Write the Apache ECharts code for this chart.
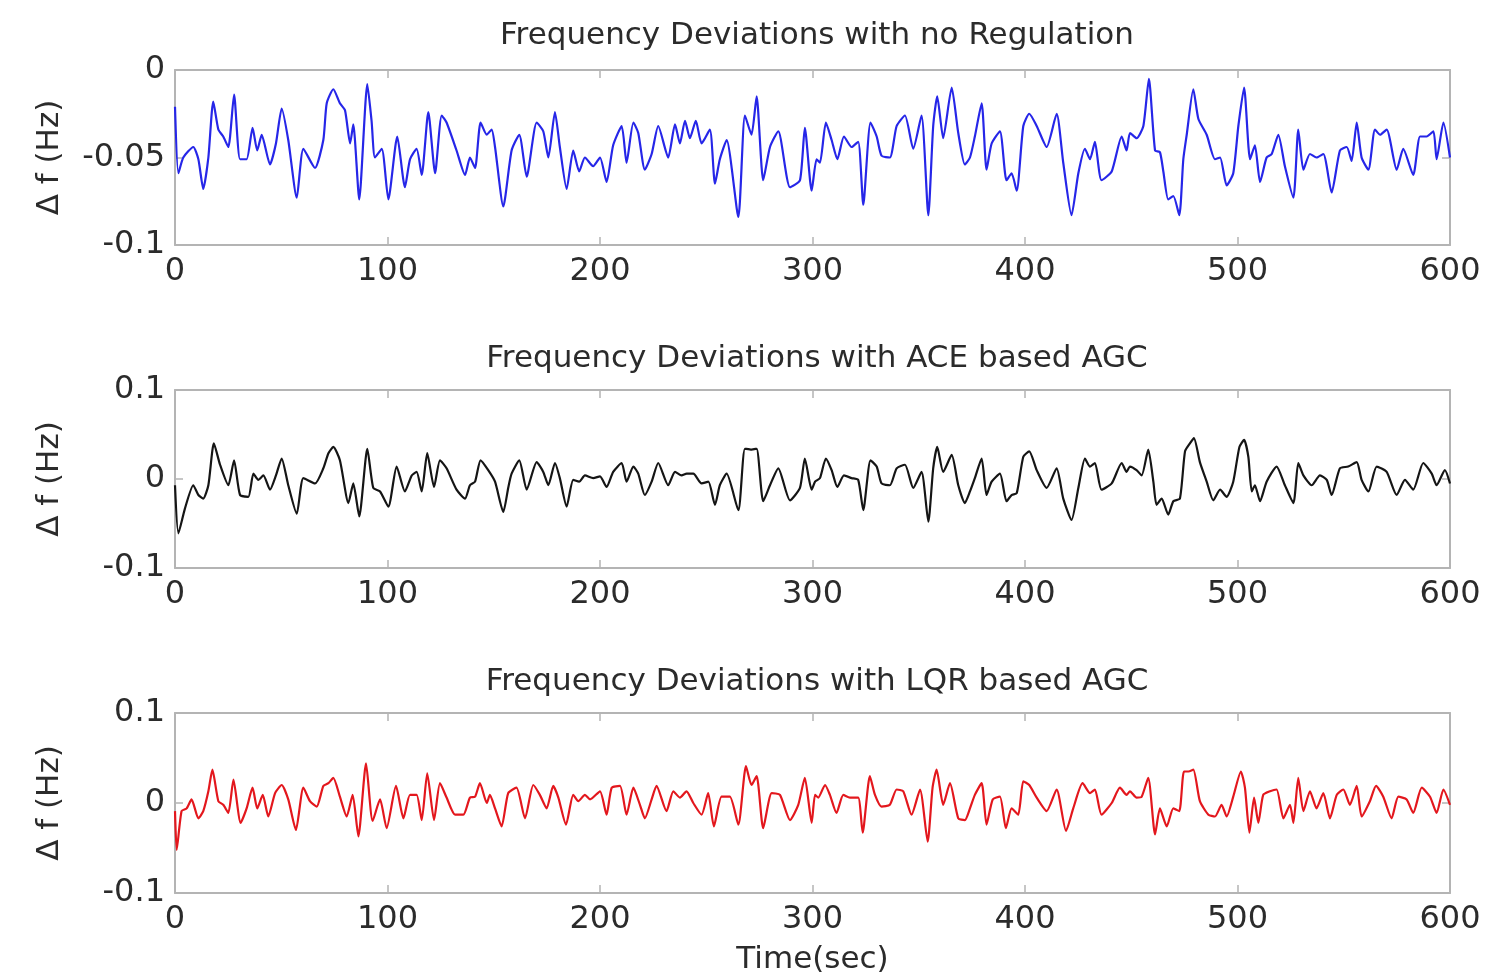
<!DOCTYPE html>
<html>
<head>
<meta charset="utf-8">
<script src="https://cdn.jsdelivr.net/npm/echarts@6/dist/echarts.min.js"></script>
<style>
    html, body { margin: 0; background: #fff; }
    #chart { width: 1489px; height: 978px; }
</style>
</head>
<body>
<div id="chart"></div>
<script>
// titles of the three panels
const panelTitles = [
    "Frequency Deviations with no Regulation",
    "Frequency Deviations with ACE based AGC",
    "Frequency Deviations with LQR based AGC"
];
// y range per panel: [min, max, interval]
const yRanges = [[-0.1, 0, 0.05], [-0.1, 0.1, 0.1], [-0.1, 0.1, 0.1]];
const xRange = [0, 600, 100];

// [time (sec), delta f (Hz)]
const noRegulation = [
    [0,-0.021],[1.6,-0.059],[3.9,-0.050],[8.6,-0.044],[11,-0.051],[13.3,-0.068],[15.7,-0.050],[18,-0.018],[20.4,-0.034],[22.7,-0.038],
    [25.1,-0.044],[27.8,-0.014],[30.6,-0.051],[33.7,-0.051],[36.5,-0.033],[38.7,-0.046],[40.8,-0.037],[44.7,-0.054],[47.5,-0.042],[50.2,-0.022],
    [53.3,-0.040],[57.3,-0.073],[60.4,-0.045],[65.9,-0.056],[69.8,-0.040],[71.4,-0.019],[74.5,-0.011],[77.6,-0.019],[80,-0.023],[82.4,-0.042],
    [83.9,-0.031],[86.7,-0.074],[90.5,-0.008],[92.5,-0.029],[94.1,-0.050],[97.3,-0.045],[100.4,-0.074],[104.6,-0.038],[108.2,-0.067],[110.6,-0.051],
    [113.7,-0.045],[116.1,-0.060],[119.2,-0.024],[122.4,-0.059],[125.5,-0.026],[127.8,-0.030],[132.5,-0.046],[136.5,-0.060],[138.8,-0.050],[141.2,-0.056],
    [143.8,-0.030],[146.7,-0.037],[149,-0.034],[150.6,-0.044],[154.5,-0.078],[158.4,-0.046],[162,-0.037],[165.5,-0.061],[170.2,-0.030],[173.3,-0.035],
    [175.7,-0.050],[178.8,-0.024],[181.1,-0.044],[184.3,-0.068],[187.4,-0.046],[190.2,-0.058],[192.9,-0.050],[196.8,-0.055],[200,-0.050],[203.1,-0.064],
    [206.2,-0.043],[210.2,-0.032],[212.5,-0.053],[215.7,-0.030],[218,-0.036],[221.1,-0.057],[224.3,-0.048],[227.4,-0.032],[232.1,-0.050],[235.3,-0.031],
    [237.6,-0.042],[240,-0.029],[242.3,-0.039],[245.1,-0.029],[247.8,-0.042],[251.7,-0.034],[254.1,-0.065],[256.4,-0.051],[259.6,-0.040],[265.1,-0.084],
    [268.2,-0.026],[271.3,-0.037],[273.7,-0.015],[276.8,-0.063],[280,-0.044],[283.9,-0.035],[289.4,-0.067],[294.1,-0.063],[296.4,-0.033],[299.6,-0.069],
    [301.9,-0.051],[303.5,-0.053],[306.3,-0.030],[309,-0.040],[311.7,-0.051],[314.8,-0.038],[318.4,-0.044],[321.5,-0.041],[323.9,-0.077],[327.3,-0.030],
    [330.2,-0.038],[332.5,-0.049],[336.4,-0.050],[339.6,-0.032],[343.5,-0.026],[347.4,-0.045],[351.3,-0.026],[354.5,-0.083],[356.8,-0.032],[358.7,-0.015],
    [361.5,-0.039],[365.5,-0.010],[368.6,-0.036],[371.7,-0.054],[374.1,-0.050],[376.4,-0.038],[379.6,-0.019],[381.9,-0.057],[384.3,-0.042],[388.2,-0.035],
    [391.3,-0.063],[393.7,-0.059],[396.1,-0.069],[399.2,-0.032],[402,-0.025],[405.5,-0.032],[410.2,-0.044],[414.9,-0.025],[418,-0.053],[421.9,-0.083],
    [425.1,-0.059],[428.2,-0.045],[430.6,-0.051],[432.9,-0.041],[436,-0.063],[440.8,-0.058],[445.5,-0.038],[447.8,-0.046],[449.4,-0.036],[452.5,-0.039],
    [455.7,-0.032],[458.3,-0.005],[461.2,-0.046],[463.5,-0.047],[465.1,-0.058],[467.4,-0.074],[469.8,-0.072],[472.6,-0.083],[474.5,-0.051],[476.1,-0.037],
    [479.2,-0.011],[481.6,-0.028],[485.5,-0.037],[489.4,-0.051],[491.8,-0.050],[494.9,-0.066],[498,-0.059],[500.4,-0.032],[503.1,-0.010],[505.9,-0.051],
    [508.2,-0.043],[510.6,-0.064],[513.7,-0.050],[516.1,-0.048],[519.2,-0.037],[522.3,-0.055],[526.3,-0.073],[528.6,-0.034],[531,-0.057],[534.1,-0.048],
    [537.2,-0.050],[540.4,-0.048],[544.3,-0.070],[548.2,-0.046],[551.4,-0.044],[553.7,-0.052],[556.1,-0.030],[558.4,-0.050],[561.6,-0.057],[564.7,-0.034],
    [567.1,-0.037],[570.2,-0.034],[574.9,-0.057],[578,-0.045],[582.7,-0.060],[585.9,-0.038],[589,-0.038],[592.2,-0.035],[593.7,-0.051],[596.9,-0.030],
    [600,-0.050]
];

const aceAgc = [
    [0,-0.007],[1.6,-0.061],[4.7,-0.033],[8.6,-0.007],[11,-0.018],[13.3,-0.022],[15.7,-0.007],[18.3,0.040],[21.2,0.016],[25.1,-0.007],
    [27.8,0.021],[30.6,-0.018],[34.5,-0.020],[36.9,0.006],[39.2,-0.001],[41.6,0.004],[44.7,-0.012],[47.5,0.004],[50.2,0.023],[53.3,-0.007],
    [57.3,-0.039],[60.4,0.001],[65.9,-0.005],[69.8,0.012],[72.2,0.029],[74.5,0.036],[77.6,0.021],[81.6,-0.027],[83.9,-0.005],[86.7,-0.042],
    [90.5,0.034],[93.3,-0.010],[96.5,-0.014],[100.4,-0.031],[104.3,0.014],[108.2,-0.014],[111.4,0.004],[113.7,0.008],[116.1,-0.014],[118.7,0.029],
    [121.9,-0.009],[124.7,0.021],[127.8,0.012],[132.5,-0.012],[136.5,-0.022],[138.8,-0.007],[141.2,-0.003],[143.8,0.021],[147.4,0.010],[150.6,-0.003],
    [154.5,-0.037],[156.8,-0.010],[158.4,0.006],[162,0.021],[165.5,-0.012],[170.2,0.019],[173.3,0.008],[175.7,-0.007],[178.8,0.018],[181.1,0.001],
    [184.3,-0.031],[187.4,-0.001],[190.2,-0.003],[192.9,0.004],[196.8,0.001],[200,0.003],[203.1,-0.009],[206.2,0.008],[210.2,0.018],[212.5,-0.003],
    [215.7,0.014],[218,0.006],[221.1,-0.018],[224.3,-0.003],[227.4,0.018],[232.1,-0.007],[235.3,0.008],[238.4,0.004],[240.8,0.006],[243.9,0.006],
    [247.8,-0.005],[251,-0.003],[254.1,-0.029],[256.4,-0.007],[259.6,0.006],[265.1,-0.035],[268.2,0.034],[271.3,0.033],[273.7,0.034],[276.8,-0.025],
    [280,-0.007],[283.9,0.012],[289.4,-0.024],[294.1,-0.010],[296.4,0.023],[299.6,-0.012],[301.2,-0.003],[303.5,0.001],[306.3,0.023],[309,0.010],
    [311.7,-0.009],[314.8,0.004],[318.4,0.001],[321.5,-0.001],[323.9,-0.035],[327.3,0.021],[330.2,0.014],[332.5,-0.005],[336.4,-0.007],[339.6,0.012],
    [343.5,0.016],[347.4,-0.010],[351.3,0.008],[354.5,-0.048],[356.8,0.012],[358.7,0.036],[361.5,0.008],[365.5,0.027],[368.6,-0.007],[371.7,-0.027],
    [374.1,-0.014],[376.4,0.001],[379.6,0.023],[381.9,-0.018],[384.3,-0.003],[388.2,0.006],[391.3,-0.025],[393.7,-0.018],[396.1,-0.016],[399.2,0.025],
    [402,0.031],[405.5,0.010],[410.2,-0.010],[414.9,0.012],[418,-0.022],[421.9,-0.046],[425.1,-0.010],[428.2,0.023],[430.6,0.014],[432.9,0.018],
    [436,-0.012],[440.8,-0.005],[445.5,0.018],[447.8,0.008],[449.4,0.014],[452.5,0.010],[454.9,0.004],[458,0.033],[460.4,-0.003],[461.9,-0.029],
    [464.3,-0.022],[467.4,-0.040],[469.8,-0.025],[472.9,-0.022],[475.3,0.031],[477.6,0.040],[479.5,0.046],[482.3,0.019],[485.5,-0.003],[488.6,-0.024],
    [491.8,-0.012],[494.9,-0.020],[498,-0.003],[500.9,0.036],[503.1,0.044],[505.1,0.025],[506.7,-0.014],[508.2,-0.007],[510.6,-0.025],[513.7,-0.003],
    [518.4,0.014],[522.3,-0.007],[526.3,-0.027],[528.6,0.018],[531,0.004],[534.9,-0.007],[538.8,0.004],[542,-0.001],[544.3,-0.018],[548.2,0.012],
    [552.1,0.014],[556.1,0.019],[558.4,-0.001],[561.6,-0.014],[565.5,0.014],[570.2,0.008],[574.9,-0.018],[578.8,-0.001],[582.7,-0.012],[587.4,0.018],
    [591.4,0.006],[593.7,-0.007],[597.6,0.010],[600,-0.005]
];

const lqrAgc = [
    [0,-0.009],[0.8,-0.052],[3.1,-0.009],[5.5,-0.006],[7.8,0.004],[11,-0.017],[13.3,-0.009],[15.7,0.013],[17.6,0.037],[20.4,0.002],
    [22.7,-0.002],[25.1,-0.011],[27.5,0.026],[30.9,-0.022],[33.7,-0.006],[36.5,0.017],[38.7,-0.006],[41.3,0.009],[43.9,-0.015],[47.1,0.011],
    [50.2,0.020],[53.3,0.004],[56.9,-0.030],[60.4,0.017],[63.5,0.002],[66.7,-0.004],[69.8,0.019],[72.2,0.022],[74.5,0.028],[77.6,0.007],
    [80.8,-0.015],[83.6,0.009],[86.3,-0.037],[89.9,0.044],[93,-0.020],[96.5,0.004],[99.6,-0.028],[104,0.019],[107.5,-0.017],[110.6,0.009],
    [113.7,0.009],[116.1,-0.019],[118.7,0.033],[121.9,-0.019],[124.7,0.022],[127.8,0.006],[131.8,-0.013],[135.7,-0.013],[138.8,0.006],[141.2,0.007],
    [143.5,0.022],[146.7,0],[148.2,0.009],[150.6,-0.006],[153.7,-0.026],[156.8,0.011],[160.7,0.017],[164.7,-0.017],[168.6,0.020],[171.7,0.009],
    [174.9,-0.006],[178,0.019],[180.4,0.006],[184,-0.024],[187.4,0.009],[189.8,0.002],[192.9,0.009],[195.3,0.004],[200,0.013],[203.1,-0.013],
    [205.5,0.017],[209.4,0.019],[212.5,-0.013],[215.7,0.017],[218.8,-0.002],[221.1,-0.017],[224.3,0.004],[226.6,0.019],[231.3,-0.009],[234.5,0.013],
    [237.6,0.006],[240.7,0.013],[243.9,0],[247.8,-0.013],[250.9,0.011],[253.6,-0.026],[257.2,0.007],[261.1,0.007],[265.1,-0.024],[268.7,0.041],
    [271.3,0.020],[273.7,0.030],[276.8,-0.028],[280.8,0.011],[284.7,0.009],[289.4,-0.019],[293.3,-0.002],[296.4,0.028],[299.6,-0.022],[301.2,0.009],
    [302.7,0.006],[305.9,0.020],[308.2,0.009],[311.3,-0.011],[314.5,0.009],[317.6,0.006],[321.5,0.006],[323.6,-0.033],[327,0.030],[329.4,0.009],
    [332.5,-0.004],[336.4,-0.002],[339.6,0.015],[342.7,0.013],[346.6,-0.013],[350.6,0.015],[354.2,-0.043],[356.5,0.017],[358.4,0.037],[361.5,-0.002],
    [364.7,0.022],[368.6,-0.017],[371.7,-0.019],[374.1,-0.006],[376.4,0.009],[379.6,0.022],[381.9,-0.024],[384.8,0.004],[388.2,0.007],[391,-0.028],
    [393.7,-0.006],[396.8,-0.013],[399.2,0.024],[402,0.020],[405.5,0.006],[410.2,-0.009],[414.9,0.015],[419.3,-0.031],[422.7,-0.006],[427.1,0.022],
    [430.6,0.011],[432.9,0.015],[436,-0.013],[440.8,0],[444.7,0.017],[447.8,0.009],[449.4,0.013],[452.5,0.006],[454.9,0.007],[458,0.028],
    [461.2,-0.035],[463.5,-0.006],[466.7,-0.026],[469.8,-0.006],[472.6,-0.009],[474.8,0.035],[476.9,0.035],[479.2,0.037],[482.3,0.002],[486.3,-0.013],
    [489.4,-0.015],[492.5,-0.002],[494.9,-0.015],[498,0.007],[501.6,0.035],[503.5,0.017],[505.6,-0.033],[507.8,0.006],[509.8,-0.022],[512.1,0.009],
    [515.3,0.013],[518.4,0.015],[521.6,-0.017],[524.7,-0.002],[526.3,-0.022],[528.6,0.028],[531,-0.009],[534.1,0.013],[537.2,-0.006],[540.4,0.011],
    [543.5,-0.017],[546.7,0.009],[549.8,0.015],[552.9,-0.002],[556.1,0.019],[558.4,-0.015],[562.3,0.002],[565.2,0.019],[568.6,0.007],[572.5,-0.017],
    [575.7,0.007],[579.6,0.004],[582.7,-0.011],[586.7,0.017],[590.6,0.007],[593.7,-0.011],[596.9,0.015],[600,-0.002]
];

const seriesData = [noRegulation, aceAgc, lqrAgc];
const lineColors = ["#2626e8", "#151515", "#e3171d"];

const font = "DejaVu Sans";
const textColor = "#2b2b2b";
const boxColor = "#b4b4b4";
const gridBoxes = [
    {top: 70, height: 175},
    {top: 390, height: 178},
    {top: 713, height: 180}
];
const titleTops = [15, 338, 661];

let grid = [], xAxis = [], yAxis = [], series = [], title = [];
for (let i = 0; i < 3; i++) {
    grid.push({left: 175, right: 39, top: gridBoxes[i].top, height: gridBoxes[i].height});
    title.push({
        text: panelTitles[i],
        left: 812,
        top: titleTops[i],
        textAlign: "center",
        textStyle: {fontFamily: font, fontSize: 31, fontWeight: "normal", color: textColor}
    });
    let tick = {show: true, inside: true, length: 8, lineStyle: {color: boxColor, width: 1.5}};
    let line = {show: true, onZero: false, lineStyle: {color: boxColor, width: 2}};
    // bottom x axis with labels
    xAxis.push({
        type: "value", gridIndex: i, position: "bottom",
        min: xRange[0], max: xRange[1], interval: xRange[2],
        axisLine: line, axisTick: tick, splitLine: {show: false},
        axisLabel: {fontFamily: font, fontSize: 32, color: textColor, margin: 11},
        name: i === 2 ? "Time(sec)" : "",
        nameLocation: "middle", nameGap: 51,
        nameTextStyle: {fontFamily: font, fontSize: 31, color: textColor}
    });
    // top x axis closes the box
    xAxis.push({
        type: "value", gridIndex: i, position: "top",
        min: xRange[0], max: xRange[1], interval: xRange[2],
        axisLine: line, axisTick: tick, axisLabel: {show: false}, splitLine: {show: false}
    });
    yAxis.push({
        type: "value", gridIndex: i, position: "left",
        min: yRanges[i][0], max: yRanges[i][1], interval: yRanges[i][2],
        axisLine: line, axisTick: tick, splitLine: {show: false},
        axisLabel: {fontFamily: font, fontSize: 32, color: textColor, margin: 10},
        name: "\u0394 f (Hz)", nameLocation: "middle", nameGap: 110,
        nameTextStyle: {fontFamily: font, fontSize: 31, color: textColor}
    });
    yAxis.push({
        type: "value", gridIndex: i, position: "right",
        min: yRanges[i][0], max: yRanges[i][1], interval: yRanges[i][2],
        axisLine: line, axisTick: tick, axisLabel: {show: false}, splitLine: {show: false}
    });
    series.push({
        type: "line",
        xAxisIndex: 2 * i,
        yAxisIndex: 2 * i,
        data: seriesData[i],
        showSymbol: false,
        smooth: 0.2,
        lineStyle: {color: lineColors[i], width: 2.2},
        animation: false
    });
}

let option = {
    backgroundColor: "#fff",
    animation: false,
    title: title,
    grid: grid,
    xAxis: xAxis,
    yAxis: yAxis,
    series: series
};

let chart = echarts.init(document.getElementById("chart"));
chart.setOption(option);
window.addEventListener("resize", () => chart.resize());
</script>
</body>
</html>
